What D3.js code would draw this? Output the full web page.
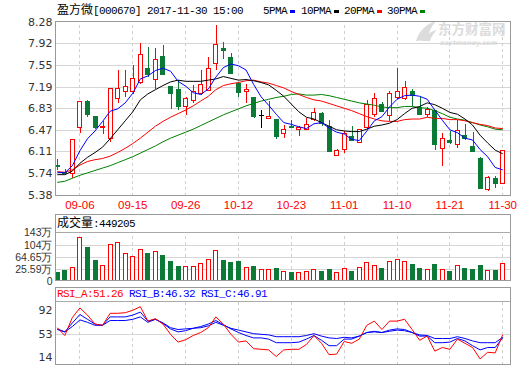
<!DOCTYPE html>
<html>
<head>
<meta charset="utf-8">
<title>盈方微 日K</title>
<style>
	body { margin: 0; background: #fff; }
	.frame { fill: none; stroke: #999; shape-rendering: crispEdges; }
	.divider { stroke: #aaa; shape-rendering: crispEdges; }
	.hgrid line { stroke: #d6d6d6; shape-rendering: crispEdges; }
	.vgrid line { stroke: #cfcfcf; stroke-dasharray: 3,3; shape-rendering: crispEdges; }
	.ylab text { font-family: 'DejaVu Sans', sans-serif; font-size: 11px; fill: #333; }
	.vlab text { font-family: 'Liberation Sans Narrow', 'Liberation Sans', sans-serif; font-size: 10.5px; fill: #333; }
	.xlab text { font-family: 'Liberation Sans Narrow', 'Liberation Sans', sans-serif; font-size: 11.5px; fill: #f00; }
	.mono { font-family: 'Liberation Mono', monospace; font-size: 11px; letter-spacing: -0.6px; }
	.cjk { font-family: 'Noto Sans CJK SC', sans-serif; font-size: 12px; letter-spacing: 0; }
	.ma { fill: none; stroke-width: 1; }
	.mark { shape-rendering: crispEdges; }
</style>
</head>
<body>
<script src="https://d3js.org/d3.v7.min.js"></script>
<script>
	'use strict';

	// 交易日 (2017-09-01 .. 2017-11-30)
	const dates = ['09-01','09-04','09-05','09-06','09-07','09-08','09-11','09-12','09-13','09-14',
		'09-15','09-18','09-19','09-20','09-21','09-22','09-25','09-26','09-27','09-28',
		'09-29','10-09','10-10','10-11','10-12','10-13','10-16','10-17','10-18','10-19',
		'10-20','10-23','10-24','10-25','10-26','10-27','10-30','10-31','11-01','11-02',
		'11-03','11-06','11-07','11-08','11-09','11-10','11-13','11-14','11-15','11-16',
		'11-17','11-20','11-21','11-22','11-23','11-24','11-27','11-28','11-29','11-30'];

	const open = [5.88,5.76,5.76,6.51,6.95,6.70,6.51,6.33,7.01,7.12,
		7.12,7.26,7.50,7.31,7.70,7.20,7.15,6.87,6.97,7.09,
		7.13,7.58,7.83,7.68,7.26,7.11,7.01,6.72,6.67,6.65,
		6.42,6.54,6.48,6.48,6.65,6.75,6.53,6.06,6.16,6.37,
		6.27,6.51,6.73,6.90,6.73,7.02,7.00,7.11,6.85,6.72,
		6.80,6.17,6.30,6.24,6.39,6.20,6.00,5.48,5.67,5.58];
	const high = [5.98,5.81,6.32,6.95,6.97,6.70,6.61,7.17,7.47,7.47,
		7.56,7.92,7.86,7.83,7.89,7.21,7.30,7.02,7.22,7.47,
		7.68,8.22,7.94,7.75,7.27,7.24,7.01,6.80,6.95,6.65,
		6.55,6.63,6.53,6.67,6.83,6.76,6.63,6.15,6.45,6.53,
		6.48,6.97,7.08,6.94,7.11,7.50,7.28,7.16,7.02,6.85,
		6.80,6.41,6.45,6.63,6.57,6.43,6.02,5.69,5.69,6.14];
	const low = [5.79,5.71,5.66,6.41,6.68,6.48,6.40,6.26,6.91,7.02,
		7.07,7.24,7.36,7.16,7.39,6.81,6.80,6.72,6.92,7.05,
		7.11,7.47,7.66,7.40,7.02,6.92,6.66,6.50,6.66,6.32,
		6.34,6.50,6.37,6.47,6.61,6.53,6.10,6.06,6.09,6.29,
		6.26,6.48,6.69,6.77,6.62,6.98,6.97,6.86,6.73,6.69,
		6.14,5.87,6.23,6.17,6.30,6.10,5.50,5.45,5.50,5.56];
	const close = [5.86,5.75,6.32,6.95,6.73,6.52,6.53,7.17,7.17,7.21,
		7.33,7.73,7.40,7.65,7.40,7.08,6.87,7.00,7.12,7.24,
		7.50,7.90,7.79,7.41,7.11,7.15,6.70,6.72,6.70,6.36,
		6.49,6.52,6.51,6.56,6.76,6.58,6.11,6.14,6.42,6.30,
		6.48,6.90,7.00,6.79,7.09,7.12,7.19,7.04,6.73,6.81,
		6.24,6.33,6.26,6.47,6.34,6.11,5.50,5.68,5.59,6.13];

	const ma5 = [5.76,5.75,5.87,6.12,6.32,6.45,6.61,6.78,6.82,6.92,
		7.08,7.32,7.37,7.46,7.50,7.45,7.28,7.20,7.09,7.06,
		7.15,7.35,7.51,7.57,7.54,7.47,7.23,7.02,6.88,6.73,
		6.59,6.56,6.52,6.49,6.57,6.59,6.50,6.43,6.40,6.31,
		6.29,6.45,6.62,6.69,6.85,6.98,7.04,7.05,7.03,6.98,
		6.80,6.63,6.47,6.42,6.33,6.30,6.14,6.02,5.84,5.80];
	const ma10 = [5.72,5.72,5.78,5.91,6.01,6.09,6.18,6.32,6.47,6.62,
		6.77,6.97,7.07,7.14,7.21,7.27,7.30,7.28,7.28,7.28,
		7.30,7.32,7.36,7.33,7.30,7.31,7.29,7.26,7.22,7.13,
		7.03,6.90,6.77,6.68,6.65,6.59,6.53,6.47,6.45,6.44,
		6.44,6.48,6.53,6.55,6.58,6.64,6.74,6.83,6.86,6.92,
		6.89,6.83,6.76,6.73,6.65,6.55,6.38,6.25,6.13,6.07];
	const ma20 = [5.77,5.76,5.80,5.88,5.94,5.97,5.99,6.03,6.09,6.16,
		6.24,6.33,6.43,6.53,6.61,6.68,6.74,6.80,6.87,6.95,
		7.03,7.14,7.21,7.24,7.26,7.29,7.30,7.27,7.25,7.21,
		7.17,7.11,7.06,7.01,6.97,6.95,6.91,6.87,6.83,6.79,
		6.74,6.69,6.65,6.62,6.61,6.61,6.64,6.65,6.65,6.68,
		6.66,6.66,6.64,6.64,6.62,6.59,6.56,6.54,6.50,6.49];
	const ma30 = [5.59,5.61,5.66,5.71,5.75,5.79,5.83,5.87,5.92,5.97,
		6.02,6.08,6.14,6.20,6.27,6.33,6.38,6.43,6.48,6.54,
		6.60,6.66,6.72,6.77,6.82,6.87,6.91,6.95,6.98,7.01,
		7.03,7.06,7.07,7.05,7.05,7.06,7.04,7.01,6.98,6.95,
		6.92,6.90,6.88,6.85,6.84,6.84,6.86,6.86,6.84,6.83,
		6.79,6.74,6.68,6.65,6.63,6.59,6.55,6.52,6.48,6.47];

	// 成交量 (万)
	const volume = [18.4,24.7,33.1,128.1,96.4,55.3,39.5,106.0,111.2,77.5,
		68.0,90.1,78.5,83.8,71.1,52.1,36.3,36.3,36.3,45.8,
		58.5,87.0,55.3,49.0,52.1,32.1,36.3,25.8,25.8,30.0,
		20.5,17.3,17.3,20.5,25.8,20.5,26.8,17.3,28.9,20.5,
		32.1,49.0,38.4,30.0,52.1,57.4,51.1,42.6,30.0,25.8,
		42.6,25.8,20.5,38.4,30.0,26.8,39.5,23.7,23.7,44.92];

	const rsiA = [63,50,80,96,84,69,67,87,87,88,
		92,98,74,78,69,52,39,43,50,55,
		63,81,69,52,39,41,28,27,26,15,
		26,27,27,35,50,37,18,19,40,37,
		44,67,74,60,74,74,77,60,42,49,
		24,30,27,44,37,30,11,22,21,51.26];
	const rsiB = [61,56,71,85,77,69,67,81,81,81,
		84,89,74,77,70,61,56,58,62,65,
		69,75,68,61,55,50,46,46,44,38,
		38,38,39,44,50,42,33,33,44,44,
		49,55,57,55,59,61,60,55,49,49,
		38,38,39,45,41,33,26,30,30,46.32];
	const rsiC = [60,56,65,76,72,67,67,75,75,75,
		77,81,72,77,71,63,60,61,62,63,
		66,72,67,62,59,56,53,52,51,48,
		48,48,48,50,53,49,46,45,47,46,
		49,55,56,55,57,59,58,55,51,50,
		45,45,45,48,45,41,38,38,38,46.91];

	const priceTicks = [8.28,7.92,7.55,7.19,6.83,6.47,6.11,5.74,5.38];
	const dateTicks = ['09-06','09-15','09-26','10-12','10-23','11-01','11-10','11-21','11-30'];
	const volTicks = [143,104,64.65,25.59,0];
	const volLabels = ['143万','104万','64.65万','25.59万','0'];
	const rsiTicks = [92,53,14];

	const RED = '#ff0000', GREEN = '#0a7a36';
	const L = 55.5, R = 510.5;
	const main = {top: 21.5, bottom: 195.5};
	const vol = {top: 214.5, head: 232.5, bottom: 280.5};
	const rsi = {top: 287.5, head: 301.5, bottom: 364.5};

	const svg = d3.select('body').append('svg')
		.attr('width', 520)
		.attr('height', 365);

	const x = d3.scaleBand().domain(dates).range([53.5, 506.5]).paddingInner(0.34).paddingOuter(0.17);
	const xc = d => x(d) + x.bandwidth() / 2;
	const yP = d3.scaleLinear().domain([5.38, 8.28]).range([195, 21.5]);
	const yV = d3.scaleLinear().domain([0, 143]).range([277.5, 232.3]);
	const yR = d3.scaleLinear().domain([0, 100]).range([365.5, 305.5]);

	// 水印
	const wm = svg.append('g').attr('fill', '#dcdcdc');
	wm.append('path').attr('d', 'M416,41 C419,31 426,24 436,21 C431,27 428,33 427,40 Z M422,41 C426,35 431,31 437,30 C433,34 431,37 430,41 Z');
	wm.append('text').attr('x', 438).attr('y', 34)
		.style('font-family', "'Noto Sans CJK SC'").style('font-size', '13.5px').style('font-weight', 'bold')
		.text('东方财富网');
	wm.append('text').attr('x', 440).attr('y', 44.5)
		.style('font-family', "'DejaVu Sans'").style('font-size', '6.5px').style('font-weight', 'bold').style('font-style', 'italic')
		.text('eastmoney.com');

	function hGrid(scale, ticks) {
		const g = svg.append('g').attr('class', 'hgrid').attr('transform', 'translate(' + L + ',0)')
			.call(d3.axisLeft(scale).tickValues(ticks).tickFormat('').tickSize(-(R - L)));
		g.select('.domain').remove();
	}
	function vGrid(y0, y1) {
		const g = svg.append('g').attr('class', 'vgrid').attr('transform', 'translate(0,' + y1 + ')')
			.call(d3.axisBottom(x).tickValues(dateTicks).tickFormat('').tickSize(-(y1 - y0)));
		g.select('.domain').remove();
	}
	function yLabels(scale, ticks, fmt, cls) {
		const g = svg.append('g').attr('class', cls || 'ylab').attr('transform', 'translate(' + (L - 1) + ',0)')
			.call(d3.axisLeft(scale).tickValues(ticks).tickFormat(fmt).tickSize(0).tickPadding(2));
		g.select('.domain').remove();
		return g;
	}

	// ---- K线区 ----
	hGrid(yP, priceTicks.slice(1, -1));
	vGrid(main.top, main.bottom);
	yLabels(yP, priceTicks, d3.format('.2f'));

	const xa = svg.append('g').attr('class', 'xlab').attr('transform', 'translate(0,' + main.bottom + ')')
		.call(d3.axisBottom(x).tickValues(dateTicks).tickSize(0).tickPadding(5));
	xa.select('.domain').remove();

	const bars = dates.map((d, i) => ({d: d, o: open[i], h: high[i], l: low[i], c: close[i], v: volume[i]}));
	const colorOf = b => b.c > b.o ? RED : (b.c < b.o ? GREEN : '#000');
	const px = b => Math.round(x(b.d)) + 0.5;
	const cx = b => Math.round(xc(b.d)) + 0.5;

	const candles = svg.append('g').attr('class', 'mark');
	candles.selectAll('line.wick').data(bars).join('line')
		.attr('class', 'wick')
		.attr('x1', cx).attr('x2', cx)
		.attr('y1', b => yP(b.h)).attr('y2', b => yP(b.l))
		.attr('stroke', colorOf);
	candles.selectAll('rect').data(bars.filter(b => b.c !== b.o)).join('rect')
		.attr('x', px)
		.attr('width', 4)
		.attr('y', b => Math.round(yP(Math.max(b.o, b.c))) + 0.5)
		.attr('height', b => Math.max(1, Math.round(Math.abs(yP(b.o) - yP(b.c)))))
		.attr('fill', b => b.c > b.o ? '#fff' : GREEN)
		.attr('stroke', colorOf);
	candles.selectAll('line.doji').data(bars.filter(b => b.c === b.o)).join('line')
		.attr('class', 'doji')
		.attr('x1', b => px(b) - 0.5).attr('x2', b => px(b) + 4.5)
		.attr('y1', b => Math.round(yP(b.c)) + 0.5).attr('y2', b => Math.round(yP(b.c)) + 0.5)
		.attr('stroke', '#000');

	const maLine = d3.line().x((v, i) => xc(dates[i])).y(v => yP(v));
	[[ma30, '#008000'], [ma20, RED], [ma10, '#000'], [ma5, '#0000ff']].forEach(function(m) {
		svg.append('path').attr('class', 'ma').attr('d', maLine(m[0])).attr('stroke', m[1]);
	});

	svg.append('rect').attr('class', 'frame').attr('x', L).attr('y', main.top)
		.attr('width', R - L).attr('height', main.bottom - main.top);

	// 标题与图例
	const title = svg.append('text').attr('x', 57).attr('y', 14).attr('fill', '#000');
	title.append('tspan').attr('class', 'cjk').text('盈方微');
	title.append('tspan').attr('class', 'mono').text('[000670] 2017-11-30 15:00');

	const legend = [['5PMA', '#0000ff', 263], ['10PMA', '#000', 301], ['20PMA', RED, 344], ['30PMA', '#008000', 387]];
	legend.forEach(function(l) {
		svg.append('text').attr('class', 'mono').attr('x', l[2]).attr('y', 14).attr('fill', '#000').text(l[0]);
		svg.append('rect').attr('x', l[2] + l[0].length * 6 + 3).attr('y', 10).attr('width', 5).attr('height', 3).attr('fill', l[1]);
	});

	// ---- 成交量 ----
	hGrid(yV, [104, 64.65, 25.59]);
	vGrid(vol.head, vol.bottom);
	const vl = yLabels(yV, volTicks, (d, i) => volLabels[i], 'ylab vlab');
	// the "0" label sits on the panel floor
	vl.selectAll('.tick').filter(d => d === 0).attr('transform', 'translate(0,' + (vol.bottom + 1) + ')');

	svg.append('g').attr('class', 'mark').selectAll('rect').data(bars).join('rect')
		.attr('x', px)
		.attr('width', 4)
		.attr('y', b => Math.round(yV(b.v)) + 0.5)
		.attr('height', b => vol.bottom - 0.5 - (Math.round(yV(b.v)) + 0.5))
		.attr('fill', b => b.c >= b.o ? '#fff' : GREEN)
		.attr('stroke', b => b.c >= b.o ? RED : GREEN);

	svg.append('rect').attr('class', 'frame').attr('x', L).attr('y', vol.top)
		.attr('width', R - L).attr('height', vol.bottom - vol.top);
	svg.append('line').attr('class', 'divider').attr('x1', L).attr('x2', R).attr('y1', vol.head).attr('y2', vol.head);
	const vt = svg.append('text').attr('x', 57).attr('y', 227).attr('fill', '#000');
	vt.append('tspan').attr('class', 'cjk').text('成交量');
	vt.append('tspan').attr('class', 'mono').text(':449205');

	// ---- RSI ----
	hGrid(yR, [53]);
	vGrid(rsi.head, rsi.bottom);
	yLabels(yR, rsiTicks, d3.format('d'));

	const rsiLine = d3.line().x((v, i) => xc(dates[i])).y(v => yR(v));
	[[rsiC, '#0000ff'], [rsiB, '#0000ff'], [rsiA, RED]].forEach(function(r) {
		svg.append('path').attr('class', 'ma').attr('d', rsiLine(r[0])).attr('stroke', r[1]);
	});

	svg.append('rect').attr('class', 'frame').attr('x', L).attr('y', rsi.top)
		.attr('width', R - L).attr('height', rsi.bottom - rsi.top);
	svg.append('line').attr('class', 'divider').attr('x1', L).attr('x2', R).attr('y1', rsi.head).attr('y2', rsi.head);
	const rt = svg.append('text').attr('class', 'mono').attr('x', 57).attr('y', 297);
	rt.append('tspan').attr('fill', RED).text('RSI_A:' + rsiA[59].toFixed(2) + ' ');
	rt.append('tspan').attr('fill', '#0000ff').text('RSI_B:' + rsiB[59].toFixed(2) + ' ');
	rt.append('tspan').attr('fill', '#0000ff').text('RSI_C:' + rsiC[59].toFixed(2));
</script>
</body>
</html>
